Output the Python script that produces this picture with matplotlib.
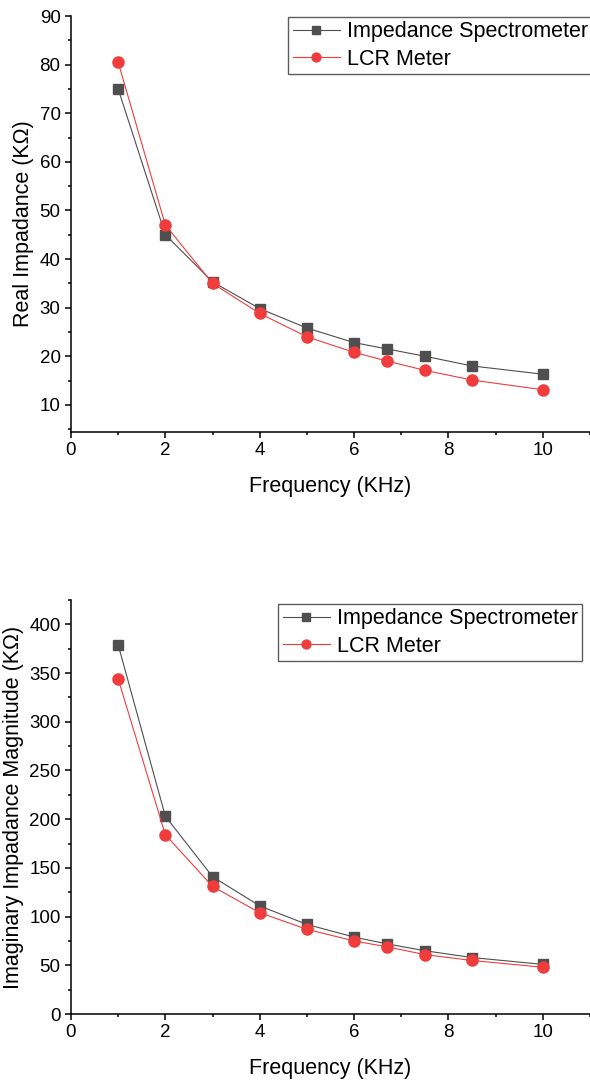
import numpy as np
import matplotlib.pyplot as plt
from matplotlib.ticker import MultipleLocator

plt.rcParams['font.family'] = ['Liberation Sans', 'DejaVu Sans']

freq = [1, 2, 3, 4, 5, 6, 6.7, 7.5, 8.5, 10]

real_spec = [75.0, 45.0, 35.3, 29.8, 25.8, 22.8, 21.5, 20.0, 18.0, 16.3]
real_lcr = [80.5, 47.0, 35.0, 28.8, 24.0, 20.8, 19.0, 17.1, 15.1, 13.1]

imag_spec = [379, 203, 141, 111, 92, 79, 72, 65, 58, 51]
imag_lcr = [344, 184, 131, 104, 87, 75, 69, 61, 55, 48]

labels = ['Impedance Spectrometer', 'LCR Meter']
gray = '#4f4f4f'
red = '#f03c3c'

fig = plt.figure(figsize=(5.9, 10.82), dpi=100)
ax1 = fig.add_axes([0.1203, 0.6007, 0.8797, 0.3845])
ax2 = fig.add_axes([0.1203, 0.0628, 0.8797, 0.3827])


def style(ax, spec, lcr, ylabel, ylim, major, minor, legend_anchor):
    ax.plot(freq, spec, '-s', color=gray, lw=0.8, ms=7.5, mec=gray, label=labels[0])
    ax.plot(freq, lcr, '-o', color=red, lw=0.8, ms=8, mec=red, label=labels[1])
    ax.set_xlim(0, 11)
    ax.set_ylim(*ylim)
    ax.xaxis.set_major_locator(MultipleLocator(2))
    ax.xaxis.set_minor_locator(MultipleLocator(1))
    ax.yaxis.set_major_locator(MultipleLocator(major))
    ax.yaxis.set_minor_locator(MultipleLocator(minor))
    ax.spines['top'].set_visible(False)
    ax.spines['right'].set_visible(False)
    for s in ('left', 'bottom'):
        ax.spines[s].set_linewidth(1.1)
    ax.tick_params(which='major', direction='out', length=4.5, width=1.1, labelsize=13.5, pad=3)
    ax.tick_params(which='minor', direction='out', length=2.2, width=1.1)
    ax.set_xlabel('Frequency (KHz)', fontsize=15.5, labelpad=12)
    ax.set_ylabel(ylabel, fontsize=15.5, labelpad=4)
    leg = ax.legend(loc='upper right', bbox_to_anchor=legend_anchor,
                    bbox_transform=fig.transFigure, fontsize=15.5,
                    frameon=True, fancybox=False, edgecolor='#333333',
                    handlelength=2.2, borderpad=0.2, labelspacing=0.3,
                    handletextpad=0.3, borderaxespad=0, markerscale=0.8)
    leg.get_frame().set_linewidth(1.0)


style(ax1, real_spec, real_lcr, 'Real Impadance (K\u03a9)', (4.4, 90), 10, 5,
      (1.0034, 0.9843))
style(ax2, imag_spec, imag_lcr, 'Imaginary Impadance Magnitude (K\u03a9)', (0, 425), 50, 25,
      (0.9864, 0.4418))

fig.savefig('out.png', dpi=100)
